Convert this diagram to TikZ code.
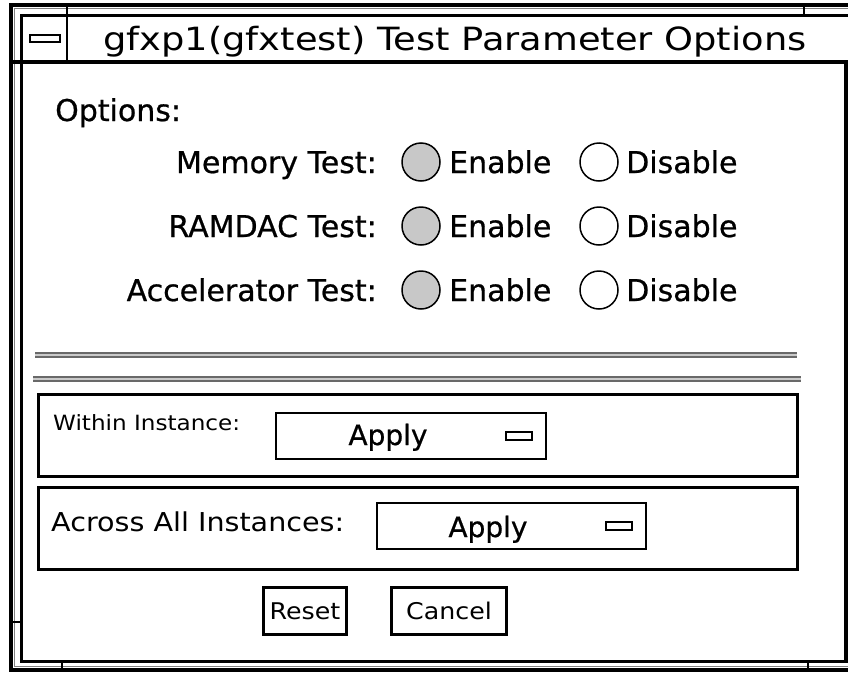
\documentclass[tikz,border=0pt]{standalone}
\usepackage{fontspec}
\setmainfont{DejaVu Sans}
\newfontfamily\titlefont[FakeStretch=1.15]{DejaVu Sans}
\newfontfamily\lightfont[FakeStretch=1.1]{DejaVu Sans}
\newfontfamily\heavyfont[FakeBold=0.7]{DejaVu Sans}
\usetikzlibrary{positioning}
\definecolor{radiogray}{RGB}{200,200,200}
\definecolor{sepgray}{RGB}{105,105,105}
\newcommand{\separator}[3]{
    \fill[sepgray!35] (#2,#1-2) rectangle (#3,#1+2);
    \draw[sepgray,line width=1.5pt] (#2,#1-2) -- (#3,#1-2);
    \draw[sepgray,line width=1.5pt] (#2,#1+2) -- (#3,#1+2);
}

\begin{document}
\begin{tikzpicture}[x=1pt,y=-1pt,
    frame/.style={line width=3.5pt},
    box/.style={draw,line width=3pt,inner sep=0pt},
    field/.style={draw,line width=1.5pt,inner sep=0pt,minimum height=46pt,anchor=north west},
    menuind/.style={draw,line width=1.5pt,inner sep=0pt,minimum width=26pt,minimum height=8pt},
    radio/.style={circle,draw,line width=1.5pt,minimum size=38pt,inner sep=0pt},
    radioon/.style={radio,fill=radiogray},
    lbl/.style={inner sep=0pt,font=\heavyfont\fontsize{30}{36}\selectfont},
    thin/.style={inner sep=0pt,font=\lightfont\fontsize{#1}{#1}\selectfont}]
\useasboundingbox (0,0) rectangle (848,672);
% window frame
\draw[frame] (880,5) -- (11,5) -- (11,670) -- (880,670);
\draw[gray,line width=1pt] (880,8.5) -- (14.5,8.5) -- (14.5,666.5) -- (880,666.5);
\draw[frame] (880,15.5) -- (21.5,15.5) -- (21.5,661.5) -- (846,661.5) -- (846,62);
\draw[line width=4pt] (11,62) -- (880,62);
\draw[line width=2.5pt] (67,5) -- (67,62);
\draw[line width=2pt] (804,5) -- (804,15);
\draw[line width=2pt] (11,622) -- (21,622);
\draw[line width=2pt] (62,662) -- (62,670);
\draw[line width=2pt] (808,662) -- (808,670);
\node[draw,line width=2pt,inner sep=0pt,minimum width=30pt,minimum height=7pt] (winmenu) at (45,38.5) {};
\node[anchor=base,inner sep=0pt,font=\titlefont\fontsize{32}{38}\selectfont] (title) at (455,50) {gfxp1(gfxtest) Test Parameter Options};

% options
\node[lbl,anchor=base west] (options) at (55,121) {Options:};
\foreach \lab/\y [count=\i] in {Memory Test:/162, RAMDAC Test:/226, Accelerator Test:/290}{
    \node[lbl,anchor=base east] (test\i) at (377,\y+11) {\lab};
    \node[radioon] (en\i) at (421,\y) {};
    \node[lbl,anchor=base west] (entxt\i) at (449,\y+11) {Enable};
    \node[radio] (dis\i) at (599,\y) {};
    \node[lbl,anchor=base west] (distxt\i) at (626,\y+11) {Disable};
}

\separator{355}{35}{797}
\separator{379}{33}{801}

% apply boxes
\node[box,minimum width=759pt,minimum height=82pt,anchor=north west] (within) at (37,393) {};
\node[thin=21,anchor=base west] (withinlbl) at (53,430) {Within Instance:};
\node[field,minimum width=270pt] (applyone) at (275,412) {};
\node[lbl,font=\heavyfont\fontsize{28}{34}\selectfont,anchor=base] (applyonetxt) at (388,445) {Apply};
\node[menuind,left=14pt of applyone.east] (indone) {};

\node[box,minimum width=759pt,minimum height=82pt,anchor=north west] (across) at (37,486) {};
\node[thin=26,anchor=base west] (acrosslbl) at (51,531) {Across All Instances:};
\node[field,minimum width=269pt] (applytwo) at (376,502) {};
\node[lbl,font=\heavyfont\fontsize{28}{34}\selectfont,anchor=base] (applytwotxt) at (488,537) {Apply};
\node[menuind,left=14pt of applytwo.east] (indtwo) {};

% buttons
\node[box,thin=23,minimum width=83pt,minimum height=47pt,anchor=north west] (reset) at (262,586) {Reset};
\node[box,thin=23,minimum width=115pt,minimum height=47pt,right=42pt of reset] (cancel) {Cancel};
\end{tikzpicture}
\end{document}
